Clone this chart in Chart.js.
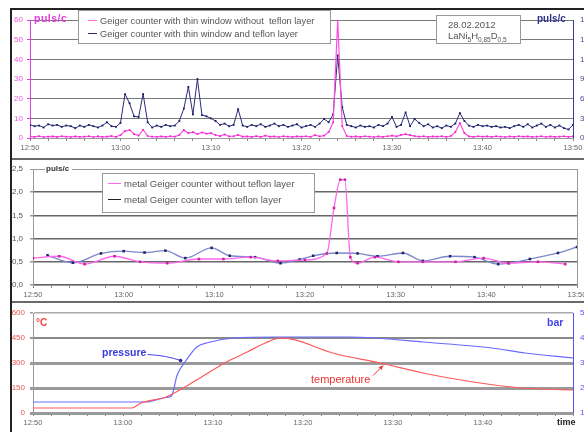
<!DOCTYPE html>
<html>
<head>
<meta charset="utf-8">
<title>Geiger counter 28.02.2012</title>
<script src="https://cdn.jsdelivr.net/npm/chart.js@4.4.1/dist/chart.umd.min.js"></script>
<style>
  html, body { margin: 0; padding: 0; }
  body { width: 584px; height: 432px; overflow: hidden; position: relative; background: #fff; font-family: "Liberation Sans", Arial, sans-serif; }
  canvas { position: absolute; left: 0; }
  #c1 { top: 0; }
  #c2 { top: 157px; }
  #c3 { top: 302px; }
  .frame { position: absolute; left: 10px; top: 8px; width: 700px; height: 500px; border-left: 2px solid #222; border-top: 2px solid #222; pointer-events: none; }
  .sep { position: absolute; left: 12px; width: 700px; height: 2px; background: #6a6a6a; }
  .lbl { position: absolute; white-space: nowrap; line-height: 1; }
  .box { position: absolute; background: #fff; border: 1px solid #999; font-size: 8px; color: #555; }
  .row { position: absolute; white-space: nowrap; line-height: 10px; }
  .swatch { display: inline-block; height: 0; vertical-align: middle; margin-right: 3px; position: relative; top: -1px; }
</style>
</head>
<body>
<canvas id="c1" width="620" height="157"></canvas>
<canvas id="c2" width="620" height="145"></canvas>
<canvas id="c3" width="620" height="130"></canvas>

<div class="frame"></div>
<div class="sep" style="top:158px"></div>
<div class="sep" style="top:301px"></div>

<!-- panel 1 texts -->
<div class="lbl" style="left:34px;top:13px;font-size:10.5px;font-weight:bold;color:#e23ad8;letter-spacing:0.5px">puls/c</div>
<div class="lbl" style="left:537px;top:14px;font-size:10px;font-weight:bold;color:#33338a">puls/c</div>
<div class="box" style="left:78px;top:10px;width:251px;height:32px;font-size:9.3px">
  <div class="row" style="left:9px;top:5px"><span class="swatch" style="width:9px;border-top:1px solid #ff66e6"></span>Geiger counter with thin window without&nbsp; teflon layer</div>
  <div class="row" style="left:9px;top:18px"><span class="swatch" style="width:9px;border-top:1px solid #2a2a7a"></span>Geiger counter with thin window and teflon layer</div>
</div>
<div class="box" style="left:436px;top:15px;width:83px;height:27px;font-size:9.5px">
  <div class="row" style="left:11px;top:4px">28.02.2012</div>
  <div class="row" style="left:11px;top:15px">LaNi<sub style="font-size:6.5px">5</sub>H<sub style="font-size:6.5px">0,85</sub>D<sub style="font-size:6.5px">0,5</sub></div>
</div>

<!-- panel 2 texts -->
<div class="lbl" style="left:45px;top:165px;font-size:8px;font-weight:bold;color:#333;background:#fff;padding:0 3px 0 1px">puls/c</div>
<div class="box" style="left:102px;top:173px;width:211px;height:38px;font-size:9.5px">
  <div class="row" style="left:5px;top:5px"><span class="swatch" style="width:13px;border-top:1px solid #ff66ee"></span>metal Geiger counter without teflon layer</div>
  <div class="row" style="left:5px;top:21px"><span class="swatch" style="width:13px;border-top:1px solid #222"></span>metal Geiger counter with teflon layer</div>
</div>

<!-- panel 3 texts -->
<div class="lbl" style="left:36px;top:318px;font-size:10px;font-weight:bold;color:#ee4444">°C</div>
<div class="lbl" style="left:547px;top:317px;font-size:10.5px;font-weight:bold;color:#4444ee">bar</div>
<div class="lbl" style="left:102px;top:347px;font-size:10.5px;font-weight:bold;color:#3a3ae0">pressure</div>
<div class="lbl" style="left:311px;top:374px;font-size:11px;color:#ee3333">temperature</div>
<div class="lbl" style="left:557px;top:418px;font-size:9px;font-weight:bold;color:#222">time</div>

<script>
// --- Data: time in minutes after 12:50 ---
const START_MIN = 12 * 60 + 50;
const topStepMin = 0.5;

// top panel: thin window counters (pink on left axis, blue on right axis)
const thinNoTeflon = [
  0.8, 0.6, 0.9, 0.5, 0.7, 0.8, 0.6, 0.9, 0.7, 0.5,
  0.8, 0.6, 0.7, 0.9, 0.5, 0.8, 0.6, 0.7, 1.0, 0.6,
  1.5, 3.5, 4.0, 2.0, 1.2, 4.2, 1.0, 0.7, 0.6, 0.8,
  0.6, 0.9, 0.7, 1.5, 4.0, 2.5, 3.0, 2.0, 2.8, 2.2,
  2.5, 1.5, 1.0, 1.8, 0.8, 0.9, 1.6, 0.7, 0.8, 0.6,
  0.9, 0.6, 1.2, 0.7, 0.8, 0.5, 0.9, 0.7, 0.6, 0.8,
  0.7, 0.9, 0.6, 1.5, 0.8, 1.2, 3.0, 8.0, 60, 6.0,
  1.0, 0.7, 0.8, 0.6, 0.9, 0.7, 0.5, 0.8, 0.6, 0.9,
  1.2, 0.8, 1.6, 2.0, 1.5, 1.0, 0.7, 0.9, 0.6, 0.8,
  0.7, 0.9, 0.6, 1.0, 3.0, 7.6, 2.5, 0.8, 0.6, 0.9,
  0.7, 0.8, 0.6, 0.9, 0.7, 0.5, 0.8, 0.6, 0.9, 0.7,
  0.8, 0.6, 0.7, 0.9, 0.5, 0.8, 0.6, 0.7, 0.9, 0.6, 0.8
];
const thinTeflon = [
  2.0, 1.8, 1.9, 1.6, 2.1, 1.9, 2.0, 1.7, 1.9, 1.8,
  1.5, 1.9, 1.7, 2.0, 1.8, 1.6, 1.9, 2.4, 1.8, 1.7,
  2.3, 6.7, 5.3, 3.3, 3.2, 6.7, 2.4, 1.6, 1.9, 1.7,
  2.0, 1.8, 1.9, 2.6, 4.5, 7.8, 3.6, 9.0, 3.5, 3.3,
  3.0, 2.6, 2.0, 2.2, 1.8, 2.0, 4.4, 1.9, 1.7, 2.0,
  1.8, 2.1, 1.7, 1.9, 2.2, 1.8, 2.0, 1.7, 1.9, 2.1,
  1.6, 1.8, 2.0, 1.7, 2.2, 2.9, 2.4, 3.6, 12.6, 4.7,
  2.0, 1.8, 1.6, 1.9, 1.7, 1.8, 1.6, 2.0, 1.8, 2.2,
  3.2, 1.7, 2.0, 3.9, 1.8, 2.9, 2.3, 1.8, 2.1, 1.6,
  1.8, 1.5, 1.9, 1.7, 2.2, 3.8, 2.6, 1.9, 1.7, 2.0,
  1.8, 1.9, 1.7, 1.8, 1.6, 1.7, 1.5, 1.8, 2.0, 1.7,
  2.1, 1.6, 1.9, 2.2, 1.7, 2.0, 1.6, 1.9, 1.5, 1.3, 2.0
];

// middle panel: metal counters
const metalNoTeflonTimes  = [0, 2.9, 5.7, 9, 11.8, 14.8, 18.3, 21, 24, 27, 30, 32.4, 33.2, 33.9, 34.4, 35.0, 35.8, 37.7, 40.3, 43, 46.6, 49.7, 52.4, 55.7, 58.7];
const metalNoTeflonCounts = [0.58, 0.62, 0.45, 0.62, 0.5, 0.47, 0.56, 0.56, 0.6, 0.52, 0.54, 0.68, 1.66, 2.27, 2.27, 0.6, 0.47, 0.6, 0.5, 0.5, 0.5, 0.58, 0.47, 0.5, 0.45];
const metalTeflonTimes    = [1.6, 4.4, 7.5, 10, 12.3, 14.6, 16.8, 19.7, 21.7, 24.5, 27.3, 29.4, 30.9, 33.5, 35.8, 38, 40.8, 43, 46, 48.7, 51.3, 52.5, 54.8, 57.9, 60];
const metalTeflonCounts   = [0.64, 0.48, 0.68, 0.73, 0.7, 0.74, 0.58, 0.8, 0.63, 0.6, 0.47, 0.55, 0.63, 0.69, 0.68, 0.62, 0.69, 0.52, 0.62, 0.6, 0.45, 0.47, 0.56, 0.69, 0.82];

// bottom panel: temperature (°C) and pressure (bar)
const tempTimes      = [0, 11, 12, 14.8, 16.7, 18.6, 21.5, 23.8, 25.8, 27.5, 29, 33.3, 38.6, 43.3, 48.9, 54.4, 60];
const tempValues     = [30, 30, 60, 96, 150, 212, 306, 366, 420, 450, 440, 360, 300, 240, 186, 150, 138];
const pressureTimes  = [0, 12.5, 14.8, 15.4, 16.0, 17.0, 18.2, 19.5, 22.4, 27, 35, 38, 43.3, 51, 54.7, 60];
const pressureValues = [1.44, 1.44, 1.62, 1.68, 2.5, 3.1, 3.64, 3.82, 4.0, 4.04, 4.04, 4.0, 3.84, 3.6, 3.4, 3.2];

const FONT = '"Liberation Sans", Arial, sans-serif';

function timeLabel(v) {
    const m = START_MIN + v;
    return Math.floor(m / 60) + ':' + String(m % 60).padStart(2, '0');
}
function isMajor(v, step) {
    return Math.abs(v / step - Math.round(v / step)) < 1e-6;
}
function pairs(times, values) {
    return values.map((v, i) => ({ x: times[i], y: v }));
}

function xAxis(height, skipLast) {
    return {
        type: 'linear', min: 0, max: 60,
        afterFit: s => { s.height = height; },
        ticks: {
            stepSize: 2, autoSkip: false, maxRotation: 0, padding: 2, maxTicksLimit: 1000,
            color: '#666', font: { size: 7.5, family: FONT },
            // the bottom panel shows "time" where the last label would be
            callback: v => (isMajor(v, 10) && !(skipLast && v === 60)) ? timeLabel(v) : ''
        },
        grid: { drawOnChartArea: false, tickLength: 3, tickColor: '#888' },
        border: { color: '#999' }
    };
}

function yAxis(o) {
    return {
        position: o.pos, min: o.min, max: o.max,
        afterFit: s => { s.width = o.width; },
        ticks: {
            stepSize: o.minor, autoSkip: false, maxTicksLimit: 1000, padding: o.padding || 4,
            color: o.color, font: { size: 8, family: FONT },
            callback: v => isMajor(v - o.min, o.major) ? o.fmt(v) : ''
        },
        grid: {
            drawOnChartArea: !!o.grid,
            color: c => (o.grid && isMajor(c.tick.value - o.min, o.major)) ? o.grid(c.tick.value).color : 'rgba(0,0,0,0)',
            lineWidth: c => (o.grid && isMajor(c.tick.value - o.min, o.major)) ? o.grid(c.tick.value).width : 0,
            tickLength: 3, tickColor: o.tickColor
        },
        border: { color: o.borderColor, dash: o.dash || [] }
    };
}

const common = {
    responsive: false, animation: false, devicePixelRatio: 1,
    plugins: { legend: { display: false }, tooltip: { enabled: false } },
    elements: { line: { fill: false } }
};

// --- Top panel ---
new Chart(document.getElementById('c1'), {
    type: 'line',
    data: {
        datasets: [
            {
                data: thinNoTeflon.map((v, i) => ({ x: i * topStepMin, y: v })), yAxisID: 'yL',
                borderColor: '#ff4ce0', borderWidth: 1.2, pointStyle: 'rect', pointRadius: 1.2,
                pointBackgroundColor: '#ee22cc', pointBorderWidth: 0
            },
            {
                data: thinTeflon.map((v, i) => ({ x: i * topStepMin, y: v })), yAxisID: 'yR',
                borderColor: '#2a2a7a', borderWidth: 1, pointStyle: 'rect', pointRadius: 1.3,
                pointBackgroundColor: '#1d1d66', pointBorderWidth: 0
            }
        ]
    },
    options: {
        ...common,
        layout: { padding: { top: 20, left: 0, right: 0, bottom: 0 } },
        scales: {
            x: xAxis(19),
            yL: yAxis({ pos: 'left', min: 0, max: 60, minor: 2, major: 10, width: 30, color: '#ee55e0',
                tickColor: '#e040e0', borderColor: '#e040e0', fmt: v => String(v),
                grid: () => ({ color: '#7a7a7a', width: 1 }) }),
            yR: yAxis({ pos: 'right', min: 0, max: 18, minor: 0.6, major: 3, width: 47, color: '#4a4aa0',
                tickColor: '#3a3a9a', borderColor: '#3a3a9a', dash: [2, 2], fmt: v => String(Math.round(v)) })
        }
    }
});

// --- Middle panel ---
new Chart(document.getElementById('c2'), {
    type: 'line',
    data: {
        datasets: [
            {
                data: pairs(metalNoTeflonTimes, metalNoTeflonCounts), yAxisID: 'y',
                borderColor: '#ff66ee', borderWidth: 1.3, cubicInterpolationMode: 'monotone',
                pointStyle: 'rect', pointRadius: 1.8, pointBackgroundColor: '#cc2299', pointBorderWidth: 0
            },
            {
                data: pairs(metalTeflonTimes, metalTeflonCounts), yAxisID: 'y',
                borderColor: '#7c88cc', borderWidth: 1.3, cubicInterpolationMode: 'monotone',
                pointStyle: 'rect', pointRadius: 1.8, pointBackgroundColor: '#222266', pointBorderWidth: 0
            }
        ]
    },
    options: {
        ...common,
        layout: { padding: { top: 12, left: 0, right: 0, bottom: 0 } },
        scales: {
            x: xAxis(17),
            y: yAxis({ pos: 'left', min: 0, max: 2.5, minor: 0.1, major: 0.5, width: 33, padding: 7, color: '#555',
                tickColor: '#999', borderColor: '#999', fmt: v => v.toFixed(1).replace('.', ','),
                grid: v => v > 2.4 ? { color: '#999', width: 1 } : { color: '#666', width: 1.5 } }),
            yEdge: {
                position: 'right', min: 0, max: 2.5,
                afterFit: s => { s.width = 43; },
                ticks: { display: false },
                grid: { drawOnChartArea: false, drawTicks: false },
                border: { color: '#999' }
            }
        }
    }
});

// --- Bottom panel: annotation arrows anchored to the scales ---
const annotationArrows = {
    id: 'annotationArrows',
    afterDatasetsDraw(chart) {
        const { ctx, scales } = chart;
        ctx.save();
        // pressure
        const px = scales.x.getPixelForValue(16.4), py = scales.yP.getPixelForValue(3.1);
        ctx.strokeStyle = '#4444dd'; ctx.lineWidth = 1;
        ctx.beginPath();
        ctx.moveTo(px - 33, py - 6);
        ctx.quadraticCurveTo(px - 14, py - 5, px, py);
        ctx.stroke();
        ctx.fillStyle = '#2a2a99';
        ctx.beginPath(); ctx.arc(px, py, 1.8, 0, Math.PI * 2); ctx.fill();
        // temperature
        const tx = scales.x.getPixelForValue(38.9), ty = scales.yT.getPixelForValue(285);
        ctx.strokeStyle = '#ee3333'; ctx.fillStyle = '#ee3333';
        ctx.beginPath(); ctx.moveTo(tx - 10, ty + 10); ctx.lineTo(tx, ty); ctx.stroke();
        ctx.beginPath(); ctx.moveTo(tx, ty); ctx.lineTo(tx - 4.5, ty + 1.5); ctx.lineTo(tx - 1.5, ty + 4.5); ctx.closePath(); ctx.fill();
        ctx.restore();
    }
};

new Chart(document.getElementById('c3'), {
    type: 'line',
    data: {
        datasets: [
            {
                data: pairs(tempTimes, tempValues), yAxisID: 'yT',
                borderColor: '#ff5a5a', borderWidth: 1.2, cubicInterpolationMode: 'monotone', pointRadius: 0
            },
            {
                data: pairs(pressureTimes, pressureValues), yAxisID: 'yP',
                borderColor: '#6a6aff', borderWidth: 1.2, cubicInterpolationMode: 'monotone', pointRadius: 0
            }
        ]
    },
    options: {
        ...common,
        layout: { padding: { top: 11, left: 0, right: 0, bottom: 0 } },
        scales: {
            x: xAxis(19, true),
            yT: yAxis({ pos: 'left', min: 0, max: 600, minor: 30, major: 150, width: 33, padding: 5, color: '#ee5555',
                tickColor: '#999', borderColor: '#999', fmt: v => String(v),
                grid: v => v <= 300 ? { color: '#9a9a9a', width: 3 } : (v < 600 ? { color: '#8a8a8a', width: 2 } : { color: '#aaa', width: 1.5 }) }),
            yP: yAxis({ pos: 'right', min: 1, max: 5, minor: 0.2, major: 1, width: 47, color: '#5555ee',
                tickColor: '#5555ee', borderColor: '#5555ee', dash: [2, 2], fmt: v => String(Math.round(v)) })
        }
    },
    plugins: [annotationArrows]
});
</script>
</body>
</html>
